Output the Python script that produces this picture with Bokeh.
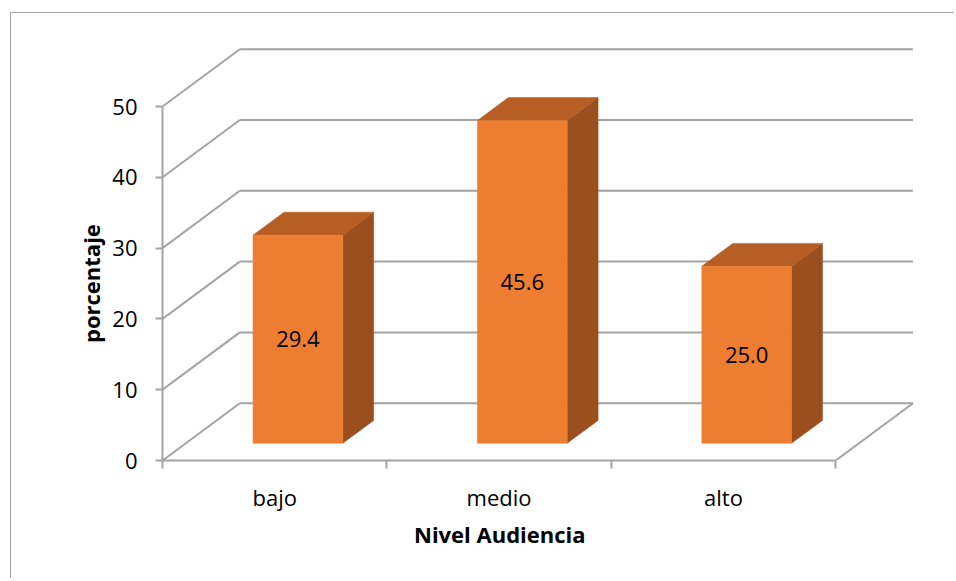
from bokeh.plotting import figure
from bokeh.models import Range1d, FixedTicker, ColumnDataSource, Title
from bokeh.embed import file_html
from bokeh.resources import INLINE
from bokeh.core.properties import value

# ---------------- data ----------------
categories = ["bajo", "medio", "alto"]
porcentaje = [29.4, 45.6, 25.0]
y_ticks = [0, 10, 20, 30, 40, 50]
x_title = "Nivel Audiencia"
y_title = "porcentaje"

# ---------------- layout / style ----------------
W, H = 944, 566
BL, BT = 151, 22
FW = 763
BR = W - BL - FW
BB = H - 447
FH = H - BT - BB
PX_CAT = 224.4          # pixels per category on the front plane
PX_UNIT = 7.08          # pixels per value unit
DEPTH_X = 77.3 / PX_CAT  # full depth offset, category units
DEPTH_Y = 57.3 / PX_UNIT  # full depth offset, value units
BAR_W = 0.4
D0, D1 = 0.3, 0.7       # bar front / back depth fraction
FONT = "Open Sans"
GRID_C = "#a3a3a3"
FRONT_C = "#ED7D31"
TOP_C = "#B65E23"
SIDE_C = "#9B4F1E"

n = len(categories)

p = figure(width=W, height=H,
           x_range=Range1d(0, FW / PX_CAT), y_range=Range1d(0, FH / PX_UNIT),
           output_backend="svg", toolbar_location=None,
           min_border_left=BL, min_border_right=BR,
           min_border_top=BT, min_border_bottom=BB)
p.grid.visible = False
p.outline_line_color = None
p.background_fill_color = "white"
p.border_fill_color = "white"
p.styles = {"margin-left": "10px", "margin-top": "12px",
            "border-left": "1px solid #a6a6a6", "border-top": "1px solid #a6a6a6"}

# ---- walls and floor ----
wall = dict(x0=[], y0=[], x1=[], y1=[])
for t in y_ticks:
    # side wall diagonal
    wall["x0"].append(0); wall["y0"].append(t)
    wall["x1"].append(DEPTH_X); wall["y1"].append(t + DEPTH_Y)
    # back wall line
    wall["x0"].append(DEPTH_X); wall["y0"].append(t + DEPTH_Y)
    wall["x1"].append(n + DEPTH_X); wall["y1"].append(t + DEPTH_Y)
# floor right edge
wall["x0"].append(n); wall["y0"].append(0)
wall["x1"].append(n + DEPTH_X); wall["y1"].append(DEPTH_Y)
p.segment("x0", "y0", "x1", "y1", source=ColumnDataSource(wall),
          line_color=GRID_C, line_width=2)

# ---- bars ----
fx, fy, tx, ty, sx, sy = [], [], [], [], [], []
lx, ly, lt = [], [], []
for i, v in enumerate(porcentaje):
    c = i + 0.5
    xl0 = c - BAR_W / 2 + D0 * DEPTH_X
    xr0 = c + BAR_W / 2 + D0 * DEPTH_X
    xl1 = c - BAR_W / 2 + D1 * DEPTH_X
    xr1 = c + BAR_W / 2 + D1 * DEPTH_X
    yb0 = D0 * DEPTH_Y
    yb1 = D1 * DEPTH_Y
    yt0 = yb0 + v
    yt1 = yb1 + v
    fx.append([xl0, xr0, xr0, xl0]); fy.append([yb0, yb0, yt0, yt0])
    tx.append([xl0, xr0, xr1, xl1]); ty.append([yt0, yt0, yt1, yt1])
    sx.append([xr0, xr1, xr1, xr0]); sy.append([yb0, yb1, yt1, yt0])
    lx.append(c + D0 * DEPTH_X); ly.append(yb0 + v / 2); lt.append(f"{v:.1f}")

p.patches(sx, sy, fill_color=SIDE_C, line_color=SIDE_C, line_width=0.5)
p.patches(tx, ty, fill_color=TOP_C, line_color=TOP_C, line_width=0.5)
p.patches(fx, fy, fill_color=FRONT_C, line_color=FRONT_C, line_width=0.5)
p.text(lx, ly, text=lt, text_font=value(FONT), text_font_size="22px",
       text_align="center", text_baseline="middle", text_color="black")

# ---- axes ----
ya = p.yaxis[0]
ya.ticker = FixedTicker(ticks=y_ticks)
ya.bounds = (0, y_ticks[-1])
ya.axis_line_color = GRID_C
ya.axis_line_width = 2
ya.major_tick_line_color = GRID_C
ya.major_tick_line_width = 2
ya.major_tick_out = 7
ya.major_tick_in = 0
ya.minor_tick_line_color = None
ya.major_label_standoff = 18
ya.major_label_text_font = FONT
ya.major_label_text_font_size = "22px"
ya.major_label_text_color = "black"

xa = p.xaxis[0]
centers = [i + 0.5 for i in range(n)]
xa.ticker = FixedTicker(ticks=centers, minor_ticks=list(range(n + 1)))
xa.bounds = (0, n)
xa.major_label_overrides = {c: lab for c, lab in zip(centers, categories)}
xa.axis_line_color = GRID_C
xa.axis_line_width = 2
xa.major_tick_line_color = None
xa.major_tick_out = 0
xa.major_tick_in = 0
xa.minor_tick_line_color = GRID_C
xa.minor_tick_line_width = 2
xa.minor_tick_out = 8
xa.minor_tick_in = 0
xa.major_label_standoff = 13
xa.major_label_text_font = FONT
xa.major_label_text_font_size = "22px"
xa.major_label_text_color = "black"

# axis titles as side titles, shifted so they centre on the axis extents
p.add_layout(Title(text=y_title, align="left", offset=117.5, standoff=8,
                   text_font=FONT, text_font_size="22px", text_font_style="bold",
                   text_color="black"), "left")
p.add_layout(Title(text=x_title, align="left", offset=251.5, standoff=4,
                   text_font=FONT, text_font_size="22px", text_font_style="bold",
                   text_color="black"), "below")

open("out.html", "w").write(file_html(p, INLINE))
